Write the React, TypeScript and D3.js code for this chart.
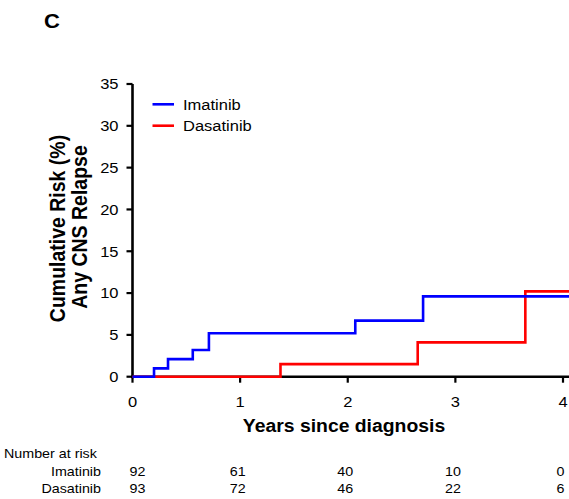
import React from "react";
import * as d3 from "d3";

// Kaplan-Meier style cumulative incidence steps (years, %)
const imatinibTimes = [0, 0.2, 0.33, 0.56, 0.71, 2.07, 2.7, 4.06];
const imatinibRisk = [0, 1.0, 2.1, 3.2, 5.2, 6.7, 9.6, 9.6];
const dasatinibTimes = [0, 1.375, 2.65, 3.65, 4.06];
const dasatinibRisk = [0, 1.5, 4.1, 10.2, 10.2];

const yTicks = [0, 5, 10, 15, 20, 25, 30, 35];
const xTicks = [0, 1, 2, 3, 4];
const riskTimes = [0, 1, 2, 3, 4];
const imatinibAtRisk = [92, 61, 40, 10, 0];
const dasatinibAtRisk = [93, 72, 46, 22, 6];

const W = 569;
const H = 499;
const FONT = "'Liberation Sans', Arial, sans-serif";
const SX = 1.1; // the source picture is stretched a bit sideways

const x = d3.scaleLinear().domain([0, 4]).range([132.5, 563]);
const y = d3.scaleLinear().domain([0, 35]).range([376.7, 84]);

const line = d3
  .line<[number, number]>()
  .x((d) => x(d[0]))
  .y((d) => y(d[1]))
  .curve(d3.curveStepAfter);

const T = ({ x: tx, y: ty, size, bold, anchor, rotate, children }: any) => (
  <text
    transform={`translate(${tx},${ty}) scale(${SX},1)${rotate ? ` rotate(${rotate})` : ""}`}
    fontSize={size}
    fontWeight={bold ? "bold" : "normal"}
    textAnchor={anchor || "start"}
    fontFamily={FONT}
    fill="#000"
  >
    {children}
  </text>
);

export default function App() {
  const imPts = imatinibTimes.map((t, i) => [t, imatinibRisk[i]] as [number, number]);
  const daPts = dasatinibTimes.map((t, i) => [t, dasatinibRisk[i]] as [number, number]);

  return (
    <svg width={W} height={H} style={{ display: "block", position: "absolute", left: 0, top: 0 }}>
      <rect width={W} height={H} fill="#fff" />
      <T x={44} y={28} size={20} bold>C</T>

      {/* y axis */}
      <line x1={x(0)} x2={x(0)} y1={y(35)} y2={y(0) + 1.5} stroke="#000" strokeWidth={2.6} />
      {yTicks.map((t) => (
        <g key={"y" + t}>
          <line x1={x(0) - 6} x2={x(0)} y1={y(t)} y2={y(t)} stroke="#000" strokeWidth={2.2} />
          <T x={x(0) - 14} y={y(t) + 5.3} size={15} anchor="end">{t}</T>
        </g>
      ))}

      {/* x axis */}
      <line x1={x(0) - 1.3} x2={W} y1={y(0)} y2={y(0)} stroke="#000" strokeWidth={2.6} />
      {xTicks.map((t) => (
        <g key={"x" + t}>
          <line x1={x(t)} x2={x(t)} y1={y(0)} y2={y(0) + 6} stroke="#000" strokeWidth={2.2} />
          <T x={x(t)} y={406.5} size={15} anchor="middle">{t}</T>
        </g>
      ))}

      {/* curves */}
      <path d={line(daPts) || ""} fill="none" stroke="#ff0000" strokeWidth={2.6} />
      <path d={line(imPts) || ""} fill="none" stroke="#0000ff" strokeWidth={2.6} />

      {/* legend */}
      <line x1={152.5} x2={174} y1={104.3} y2={104.3} stroke="#0000ff" strokeWidth={2.6} />
      <T x={183} y={109.5} size={15}>Imatinib</T>
      <line x1={152.5} x2={174} y1={125.7} y2={125.7} stroke="#ff0000" strokeWidth={2.6} />
      <T x={183} y={131} size={15}>Dasatinib</T>

      {/* axis titles */}
      <T x={65} y={228.5} size={19.5} bold anchor="middle" rotate={-90}>Cumulative Risk (%)</T>
      <T x={87} y={227} size={19.5} bold anchor="middle" rotate={-90}>Any CNS Relapse</T>
      <T x={344} y={432} size={17.6} bold anchor="middle">Years since diagnosis</T>

      {/* number at risk */}
      <T x={4} y={458.3} size={13}>Number at risk</T>
      <T x={101} y={476} size={13} anchor="end">Imatinib</T>
      <T x={101} y={492.7} size={13} anchor="end">Dasatinib</T>
      {riskTimes.map((t, i) => (
        <g key={"r" + t}>
          <T x={x(t) + (i === 0 ? 5 : -2.5)} y={476} size={13} anchor="middle">{imatinibAtRisk[i]}</T>
          <T x={x(t) + (i === 0 ? 5 : -2.5)} y={492.7} size={13} anchor="middle">{dasatinibAtRisk[i]}</T>
        </g>
      ))}
    </svg>
  );
}
